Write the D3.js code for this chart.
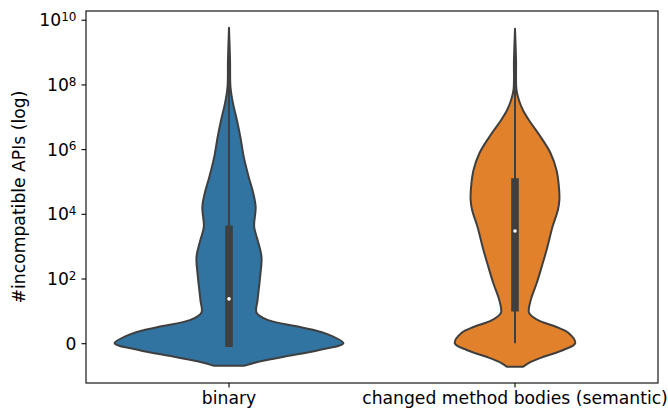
<!DOCTYPE html>
<html>

<head>
    <meta charset="utf-8">
    <title>Violin plot</title>
    <style>
        body { margin: 0; background: #fff; }
        text { font-family: "DejaVu Sans", sans-serif; fill: #000; }
    </style>
</head>

<body>
    <script src='https://d3js.org/d3.v7.min.js'></script>
    <script>
    // Categories and colours
    const categories = ["binary", "changed method bodies (semantic)"];
    const colors = ["#3274a1", "#e1812c"];

    // Y ticks: exponent of ten (0 is drawn as "0")
    const yTicks = [0, 2, 4, 6, 8, 10];

    // Density outlines: log10 value and relative half-width
    const binaryLevels = [9.75, 8.76, 7.92, 7.43, 6.90, 6.38, 5.76, 5.14, 4.65, 4.21, 3.60, 3.19, 2.67, 2.05, 1.34, 0.94, 0.72, 0.50, 0.32, 0.00, -0.21, -0.42, -0.58, -0.70];
    const binaryDensity = [0, 0.009, 0.013, 0.034, 0.069, 0.099, 0.129, 0.172, 0.211, 0.233, 0.22, 0.25, 0.284, 0.272, 0.25, 0.241, 0.336, 0.62, 0.83, 1.0, 0.79, 0.48, 0.25, 0.13];

    const semanticLevels = [9.72, 8.76, 7.83, 7.52, 7.21, 6.90, 6.38, 5.88, 5.36, 4.83, 4.43, 4.12, 3.60, 2.88, 2.36, 1.86, 1.34, 0.94, 0.72, 0.50, 0.32, 0.00, -0.21, -0.42, -0.58, -0.73];
    const semanticDensity = [0, 0.009, 0.013, 0.034, 0.069, 0.121, 0.224, 0.31, 0.362, 0.384, 0.388, 0.375, 0.328, 0.276, 0.233, 0.19, 0.138, 0.123, 0.198, 0.362, 0.466, 0.526, 0.422, 0.25, 0.138, 0.069];

    // Inner box: whisker low, q1, median, q3, whisker high (log10)
    const binaryBox = [-0.12, -0.12, 1.37, 3.64, 9.3];
    const semanticBox = [0.0, 0.98, 3.47, 5.10, 9.7];

    const violins = [
        { name: categories[0], levels: binaryLevels, density: binaryDensity, box: binaryBox },
        { name: categories[1], levels: semanticLevels, density: semanticDensity, box: semanticBox }
    ];

    // Dimensions
    const W = 668, H = 413;
    const margin = { top: 11, right: 10, bottom: 30, left: 86 };
    const xMax = W - margin.left - margin.right;
    const yMax = H - margin.top - margin.bottom;
    const fs = "17.2px";

    const svg = d3.select("body")
        .append("svg")
        .attr("width", W)
        .attr("height", H)
        .append("g")
        .attr("transform", "translate(" + margin.left + "," + margin.top + ")");

    const x = d3.scaleBand()
        .domain(categories)
        .range([0, xMax])
        .padding(0);

    const y = d3.scaleLinear()
        .domain([-1.23, 10.27])
        .range([yMax, 0]);

    // half-width of a violin
    const w = d3.scaleLinear()
        .domain([0, 1])
        .range([0, x.bandwidth() * 0.4]);

    violins.forEach(function(v, i) {
        const cx = x(v.name) + x.bandwidth() / 2;
        const pts = v.levels.map((l, j) => ({ l: l, d: v.density[j] }));

        const area = d3.area()
            .y(d => y(d.l))
            .x0(d => cx - w(d.d))
            .x1(d => cx + w(d.d))
            .curve(d3.curveCatmullRom.alpha(0.5));

        svg.append("path")
            .datum(pts)
            .attr("d", area)
            .attr("fill", colors[i])
            .attr("stroke", "#3f3f3f")
            .attr("stroke-width", 2)
            .attr("stroke-linejoin", "round");

        // whisker
        svg.append("line")
            .attr("x1", cx).attr("x2", cx)
            .attr("y1", y(v.box[0])).attr("y2", y(v.box[4]))
            .attr("stroke", "#3f3f3f")
            .attr("stroke-width", 2);

        // box
        svg.append("rect")
            .attr("x", cx - 3.8)
            .attr("width", 7.6)
            .attr("y", y(v.box[3]))
            .attr("height", y(v.box[1]) - y(v.box[3]))
            .attr("fill", "#3f3f3f");

        // median
        svg.append("circle")
            .attr("cx", cx)
            .attr("cy", y(v.box[2]))
            .attr("r", 1.8)
            .attr("fill", "#fff");
    });

    // Axes
    const yAxis = svg.append("g")
        .call(d3.axisLeft(y).tickValues(yTicks).tickSize(4.5).tickFormat(""));
    yAxis.selectAll(".tick").each(function(d) {
        const t = d3.select(this).append("text")
            .attr("x", -9.5)
            .attr("dy", "0.35em")
            .attr("text-anchor", "end")
            .style("font-size", fs);
        if (d === 0) {
            t.text("0");
        } else {
            t.append("tspan").text("10");
            t.append("tspan").attr("dy", "-0.45em").style("font-size", "12px").text(d);
        }
    });

    const xAxis = svg.append("g")
        .attr("transform", "translate(0," + yMax + ")")
        .call(d3.axisBottom(x).tickSize(4.5).tickPadding(4));
    xAxis.selectAll("text").style("font-size", fs).attr("fill", "#000");

    svg.selectAll(".domain").remove();
    svg.selectAll(".tick line").attr("stroke", "#000").attr("stroke-width", 1.1);

    // frame
    svg.append("rect")
        .attr("x", 0).attr("y", 0)
        .attr("width", xMax).attr("height", yMax)
        .attr("fill", "none")
        .attr("stroke", "#000")
        .attr("stroke-width", 1.1);

    // Y label
    svg.append("text")
        .attr("transform", "translate(" + (-61) + "," + (yMax / 2) + ") rotate(-90)")
        .attr("text-anchor", "middle")
        .style("font-size", fs)
        .text("#incompatible APIs (log)");
    </script>
</body>

</html>
